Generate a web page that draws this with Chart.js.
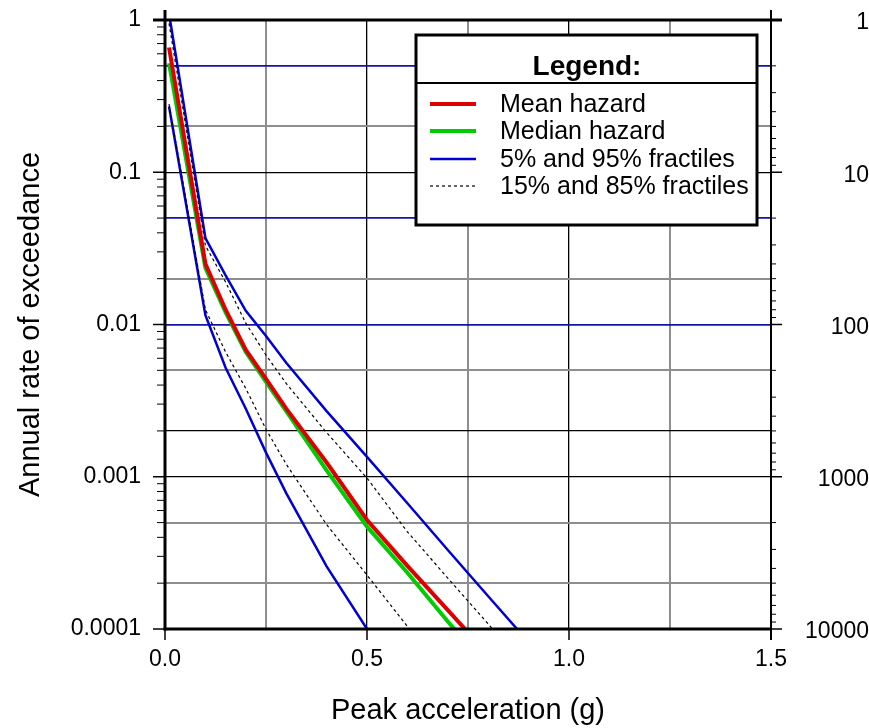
<!DOCTYPE html>
<html>
<head>
<meta charset="utf-8">
<script src="https://cdn.jsdelivr.net/npm/chart.js@4.4.1/dist/chart.umd.min.js"></script>
<style>
    html, body { margin: 0; padding: 0; background: #fff; }
    canvas { display: block; }
</style>
</head>
<body>
<canvas id="hazardChart" width="869" height="728"></canvas>
<script>
// peak ground acceleration (g) where the curves are sampled
const pga = [0.01, 0.1, 0.15, 0.2, 0.25, 0.3, 0.4, 0.5, 0.6, 0.7, 0.8, 0.9];

// annual rate of exceedance
const meanHazard = [0.66, 0.025, 0.0125, 0.0068, 0.0044, 0.0028, 0.00124, 0.00052, 0.00026, 0.000133, 0.000068, 0.000035];
const medianHazard = [0.52, 0.0235, 0.012, 0.0066, 0.0042, 0.0027, 0.0011, 0.00047, 0.000234, 0.000112, 0.000055, 0.000027];
const fractile95 = [1.1, 0.037, 0.021, 0.0123, 0.0084, 0.0056, 0.0027, 0.00135, 0.00067, 0.00033, 0.000164, 0.000082];
const fractile85 = [0.95, 0.033, 0.019, 0.0102, 0.0063, 0.0041, 0.00195, 0.00098, 0.000435, 0.000216, 0.000108, 0.000052];
const fractile15 = [0.28, 0.0125, 0.0066, 0.0038, 0.00205, 0.00121, 0.000485, 0.000226, 0.000104, 0.000048, 0.000022, 0.00001];
const fractile5 = [0.27, 0.0115, 0.0052, 0.0028, 0.00144, 0.00078, 0.000258, 0.0001, 0.00004, 0.000016, 0.0000065, 0.0000026];

// axis ticks
const xGridTicks = [0, 0.25, 0.5, 0.75, 1.0, 1.25, 1.5];
const rateGridTicks = [1, 0.5, 0.2, 0.1, 0.05, 0.02, 0.01, 0.005, 0.002, 0.001, 0.0005, 0.0002, 0.0001];
const returnPeriodTicks = [1, 10, 100, 1000, 10000];

const legendLabels = ["Mean hazard", "Median hazard", "5% and 95% fractiles", "15% and 85% fractiles"];

const FONT = "'Liberation Sans', Arial, sans-serif";
const RED = "#dd0000";
const GREEN = "#00cc00";
const BLUE = "#0000d0";
const GRID_BLUE = "#1414a8";
const GRID_GRAY = "#8e8e8e";

const blueGridRates = [0.5, 0.05, 0.01];
const blackGridRates = [0.1, 0.002, 0.001];

function toPoints(values) {
    return pga.map((x, i) => ({ x: x, y: values[i] }));
}

function isDecade(v) {
    const l = Math.log10(v);
    return Math.abs(l - Math.round(l)) < 1e-9;
}

function isHalfStep(v) {
    return Math.abs(v * 2 - Math.round(v * 2)) < 1e-9;
}

function hasRate(list, v) {
    return list.some(r => Math.abs(r - v) / r < 1e-6);
}

function gridColorForRate(v) {
    if (hasRate(blueGridRates, v)) return GRID_BLUE;
    if (hasRate(blackGridRates, v)) return "#000";
    return GRID_GRAY;
}

function line(ctx, x1, y1, x2, y2) {
    ctx.beginPath();
    ctx.moveTo(x1, y1);
    ctx.lineTo(x2, y2);
    ctx.stroke();
}

// no extra room for the first/last labels, the frame is fixed
function noLabelPadding(scale) {
    scale.paddingTop = 0;
    scale.paddingBottom = 0;
    scale.paddingLeft = 0;
    scale.paddingRight = 0;
}

const framePlugin = {
    id: "frame",
    afterDraw(chart) {
        const ctx = chart.ctx;
        const a = chart.chartArea;
        const x = chart.scales.x;
        const y = chart.scales.y;
        const y2 = chart.scales.y2;
        ctx.save();

        // legend box
        const bx = 416, by = 35, bw = 341, bh = 190;
        ctx.fillStyle = "#fff";
        ctx.fillRect(bx, by, bw, bh);
        ctx.strokeStyle = "#000";
        ctx.lineWidth = 3;
        ctx.strokeRect(bx, by, bw, bh);
        ctx.lineWidth = 2;
        line(ctx, bx, 83, bx + bw, 83);

        ctx.fillStyle = "#000";
        ctx.textBaseline = "middle";
        ctx.textAlign = "center";
        ctx.font = "bold 28px " + FONT;
        ctx.fillText("Legend:", 587, 67);

        const samples = [
            { color: RED, width: 4, dash: [] },
            { color: GREEN, width: 4, dash: [] },
            { color: BLUE, width: 2.5, dash: [] },
            { color: "#000", width: 1.2, dash: [3, 3] }
        ];
        const rowY = [104, 131, 159, 186];
        ctx.textAlign = "left";
        ctx.font = "25px " + FONT;
        samples.forEach((s, i) => {
            ctx.strokeStyle = s.color;
            ctx.lineWidth = s.width;
            ctx.setLineDash(s.dash);
            line(ctx, 430, rowY[i], 476, rowY[i]);
            ctx.setLineDash([]);
            ctx.fillText(legendLabels[i], 500, rowY[i] + 1);
        });

        // frame
        ctx.strokeStyle = "#000";
        ctx.lineWidth = 3;
        line(ctx, a.left, 10, a.left, a.bottom + 1.5);
        line(ctx, a.left - 12, a.top, a.right + 11, a.top);
        line(ctx, a.left - 1.5, a.bottom, a.right + 1, a.bottom);
        ctx.lineWidth = 2;
        line(ctx, a.right, 10, a.right, a.bottom + 11);

        // left axis ticks
        for (let e = 0; e >= -4; e--) {
            const d = Math.pow(10, e);
            ctx.lineWidth = 1.5;
            const py = y.getPixelForValue(d);
            line(ctx, a.left - 12, py, a.left, py);
            if (e === -4) continue;
            ctx.lineWidth = 1;
            for (let m = 2; m <= 9; m++) {
                const my = y.getPixelForValue(m * d / 10);
                line(ctx, a.left - 8, my, a.left, my);
            }
        }

        // right axis ticks (return period)
        for (let e = 0; e <= 4; e++) {
            const d = Math.pow(10, e);
            ctx.lineWidth = 1.5;
            const py = y2.getPixelForValue(d);
            line(ctx, a.right, py, a.right + 11, py);
            if (e === 4) continue;
            ctx.lineWidth = 1;
            for (let m = 2; m <= 9; m++) {
                const my = y2.getPixelForValue(m * d);
                line(ctx, a.right, my, a.right + 5, my);
            }
        }

        // bottom axis ticks
        ctx.lineWidth = 1.5;
        [0, 0.5, 1.0, 1.5].forEach(v => {
            const px = x.getPixelForValue(v);
            line(ctx, px, a.bottom, px, a.bottom + 11);
        });

        ctx.restore();
    }
};

const ctx = document.getElementById("hazardChart");

new Chart(ctx, {
    type: "line",
    data: {
        datasets: [
            { label: "Mean hazard", data: toPoints(meanHazard), borderColor: RED, borderWidth: 4 },
            { label: "Median hazard", data: toPoints(medianHazard), borderColor: GREEN, borderWidth: 4 },
            { label: "15% fractile", data: toPoints(fractile15), borderColor: "#000", borderWidth: 1.2, borderDash: [3, 3] },
            { label: "85% fractile", data: toPoints(fractile85), borderColor: "#000", borderWidth: 1.2, borderDash: [3, 3] },
            { label: "5% fractile", data: toPoints(fractile5), borderColor: BLUE, borderWidth: 2.5 },
            { label: "95% fractile", data: toPoints(fractile95), borderColor: BLUE, borderWidth: 2.5 }
        ]
    },
    options: {
        responsive: false,
        animation: false,
        events: [],
        layout: { padding: { top: 20, right: 0, bottom: 0, left: 0 } },
        elements: {
            point: { radius: 0 },
            line: { tension: 0, fill: false }
        },
        plugins: {
            legend: { display: false },
            tooltip: { enabled: false }
        },
        scales: {
            x: {
                type: "linear",
                position: "bottom",
                min: 0,
                max: 1.5,
                afterBuildTicks: scale => {
                    scale.ticks = xGridTicks.map(v => ({ value: v }));
                },
                afterFit: scale => {
                    scale.height = 99;
                    noLabelPadding(scale);
                },
                border: { display: false },
                grid: {
                    drawTicks: false,
                    color: c => (isHalfStep(c.tick.value) ? "#000" : GRID_GRAY),
                    lineWidth: c => (isHalfStep(c.tick.value) ? 1.3 : 2)
                },
                ticks: {
                    autoSkip: false,
                    maxRotation: 0,
                    padding: 17,
                    color: "#000",
                    font: { family: FONT, size: 23 },
                    callback: v => (isHalfStep(v) ? v.toFixed(1) : "")
                },
                title: {
                    display: true,
                    text: "Peak acceleration (g)",
                    color: "#000",
                    font: { family: FONT, size: 29 },
                    padding: { top: 0, bottom: 0 }
                }
            },
            y: {
                type: "logarithmic",
                position: "left",
                min: 0.0001,
                max: 1,
                afterBuildTicks: scale => {
                    scale.ticks = rateGridTicks.map(v => ({ value: v }));
                },
                afterFit: scale => {
                    scale.width = 165;
                    noLabelPadding(scale);
                },
                border: { display: false },
                grid: {
                    drawTicks: false,
                    color: c => gridColorForRate(c.tick.value),
                    lineWidth: c => {
                        const col = gridColorForRate(c.tick.value);
                        if (col === GRID_GRAY) return 2;
                        return col === GRID_BLUE ? 1.8 : 1.3;
                    }
                },
                ticks: {
                    autoSkip: false,
                    padding: 24,
                    color: "#000",
                    font: { family: FONT, size: 23 },
                    callback: v => (isDecade(v) ? String(v) : "")
                },
                title: {
                    display: true,
                    text: "Annual rate of exceedance",
                    color: "#000",
                    font: { family: FONT, size: 29 },
                    padding: { top: 14, bottom: 0 }
                }
            },
            y2: {
                type: "logarithmic",
                position: "right",
                reverse: true,
                min: 1,
                max: 10000,
                afterBuildTicks: scale => {
                    scale.ticks = returnPeriodTicks.map(v => ({ value: v }));
                },
                afterFit: scale => {
                    scale.width = 98;
                    noLabelPadding(scale);
                },
                border: { display: false },
                grid: { display: false, drawTicks: false },
                ticks: {
                    autoSkip: false,
                    padding: 21,
                    crossAlign: "far",
                    labelOffset: 3,
                    color: "#000",
                    font: { family: FONT, size: 23 },
                    callback: v => String(v)
                }
            }
        }
    },
    plugins: [framePlugin]
});
</script>
</body>
</html>
